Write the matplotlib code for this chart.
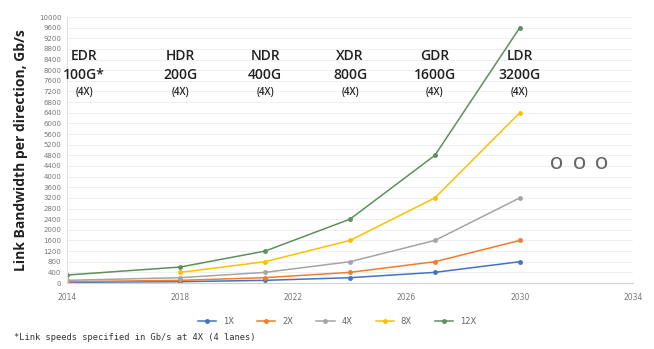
import numpy as np
import matplotlib.pyplot as plt
from matplotlib.ticker import MultipleLocator

years = [2014, 2018, 2021, 2024, 2027, 2030]
bw_1x = [25, 50, 100, 200, 400, 800]
bw_2x = [50, 100, 200, 400, 800, 1600]
bw_4x = [100, 200, 400, 800, 1600, 3200]
bw_8x = [np.nan, 400, 800, 1600, 3200, 6400]
bw_12x = [300, 600, 1200, 2400, 4800, 9600]

x_ticks = [2014, 2018, 2022, 2026, 2030, 2034]

gen_names = ['EDR', 'HDR', 'NDR', 'XDR', 'GDR', 'LDR']
gen_speeds = ['100G*', '200G', '400G', '800G', '1600G', '3200G']
gen_x = [2014.6, 2018, 2021, 2024, 2027, 2030]

series = [
    ('1X', bw_1x, '#4472c4'),
    ('2X', bw_2x, '#ed7d31'),
    ('4X', bw_4x, '#a5a5a5'),
    ('8X', bw_8x, '#ffc000'),
    ('12X', bw_12x, '#5e8f5e'),
]

fig = plt.figure(figsize=(6.54, 3.49), dpi=100)
ax = fig.add_axes([67 / 654, 1 - 283 / 349, 566 / 654, 266 / 349])

for label, vals, color in series:
    ax.plot(years, vals, color=color, lw=1.1, marker='o', ms=2.5, label=label)

ax.set_xlim(2014, 2034)
ax.set_ylim(0, 10000)
ax.set_xticks(x_ticks)
ax.yaxis.set_major_locator(MultipleLocator(400))
ax.grid(axis='y', color='#ececec', lw=0.6)
ax.set_axisbelow(True)
for side in ['top', 'right']:
    ax.spines[side].set_visible(False)
ax.spines['left'].set_color('#e0e0e0')
ax.spines['bottom'].set_color('#d0d0d0')
ax.tick_params(length=0, labelsize=5, colors='#777777', pad=4)
ax.tick_params(axis='x', labelsize=5.5, pad=7)

ax.set_ylabel('Link Bandwidth per direction, Gb/s', fontsize=10,
              fontweight='bold', family='Open Sans', color='#222222', labelpad=8)

for x, name, speed in zip(gen_x, gen_names, gen_speeds):
    ax.text(x, 8550, name, ha='center', va='center', fontsize=10,
            fontweight='semibold', family='Open Sans', color='#222222')
    ax.text(x, 7820, speed, ha='center', va='center', fontsize=10,
            fontweight='semibold', family='Open Sans', color='#222222')
    ax.text(x, 7150, '(4X)', ha='center', va='center', fontsize=7,
            fontweight='semibold', family='Open Sans', color='#222222')

for x in [2031.3, 2032.1, 2032.9]:
    ax.text(x, 4450, 'O', ha='center', va='center', fontsize=12,
            fontweight='semibold', family='Open Sans', color='#666666')

fig.legend(loc='center', bbox_to_anchor=(337 / 654, 1 - 321 / 349), ncol=5,
           frameon=False, fontsize=6, handlelength=2.2, columnspacing=2.8,
           labelcolor='#666666')

fig.text(14 / 654, 1 - 338 / 349, '*Link speeds specified in Gb/s at 4X (4 lanes)',
         family='DejaVu Sans Mono', fontsize=6.3, color='#333333', va='center')

fig.savefig('out.png', dpi=100)
